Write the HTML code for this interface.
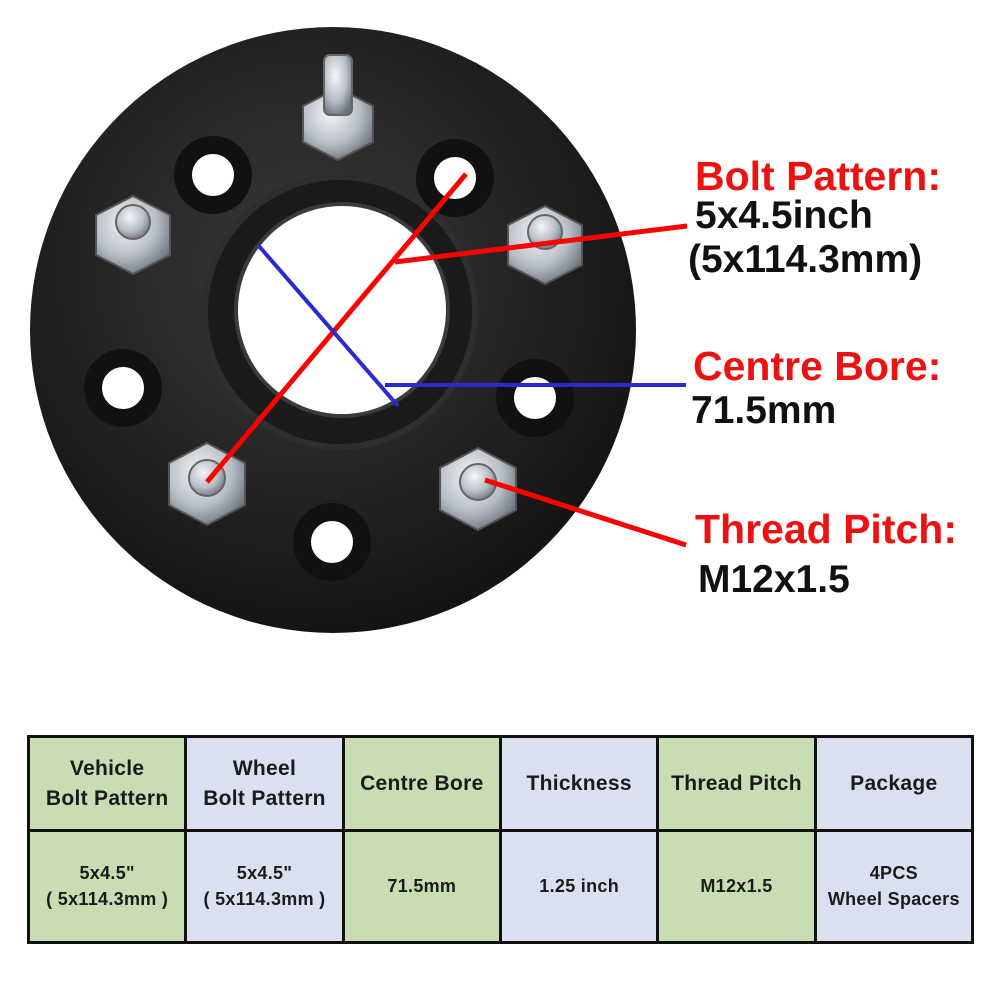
<!DOCTYPE html>
<html><head><style>
body{margin:0;background:#fff;width:1001px;height:1001px;overflow:hidden;font-family:"Liberation Sans",Arial,sans-serif}
svg{position:absolute;left:0;top:0}
table{position:absolute;left:27px;top:735px;width:947px;height:209px;border-collapse:collapse;table-layout:fixed}
td{border:3px solid #111;text-align:center;font-weight:bold;font-size:21px;color:#1a1a1a;line-height:1.4;padding:0;letter-spacing:0.3px}
tr.b td{font-size:18px}
.g{background:#c9ddb3}.v{background:#dbe0f1}
</style></head><body>
<svg width="1001" height="1001">
<defs>
<radialGradient id="d" cx="45%" cy="40%" r="65%"><stop offset="0" stop-color="#3a3a3a"/><stop offset="0.6" stop-color="#222"/><stop offset="1" stop-color="#111"/></radialGradient>
<radialGradient id="s" cx="40%" cy="35%" r="70%"><stop offset="0" stop-color="#f4f6f8"/><stop offset="0.6" stop-color="#b8bec6"/><stop offset="1" stop-color="#6c737c"/></radialGradient>
</defs>
<circle cx="333" cy="330" r="303" fill="url(#d)"/>
<circle cx="340" cy="312" r="135" fill="#1a1a1a" stroke="#2e2e2e" stroke-width="6"/>
<circle cx="342" cy="310" r="106" fill="#fff" stroke="#3a3a3a" stroke-width="4"/>
<g fill="#fff" stroke="#111" stroke-width="18">
<circle cx="213" cy="175" r="30"/><circle cx="455" cy="178" r="30"/><circle cx="123" cy="388" r="30"/><circle cx="535" cy="398" r="30"/><circle cx="332" cy="542" r="30"/>
</g>
<g fill="url(#s)" stroke="#555" stroke-width="2">
<polygon points="338,88 373,106 373,142 338,160 303,142 303,106"/>
<polygon points="133,196 170,215 170,255 133,274 96,255 96,215"/>
<polygon points="545,206 582,225 582,265 545,284 508,265 508,225"/>
<polygon points="207,443 245,463 245,505 207,525 169,505 169,463"/>
<polygon points="478,448 516,468 516,510 478,530 440,510 440,468"/>
</g>
<g fill="url(#s)" stroke="#666" stroke-width="2">
<rect x="324" y="55" width="28" height="60" rx="6"/>
<circle cx="133" cy="222" r="17"/><circle cx="545" cy="232" r="17"/><circle cx="207" cy="478" r="18"/><circle cx="478" cy="482" r="18"/>
</g>
<g stroke="#f00" stroke-width="5" fill="none">
<line x1="207" y1="482" x2="466" y2="174"/>
<line x1="395" y1="262" x2="687" y2="226"/>
<line x1="485" y1="480" x2="686" y2="545"/>
</g>
<g stroke="#2a2ad0" stroke-width="4" fill="none">
<line x1="258" y1="245" x2="398" y2="406"/>
<line x1="385" y1="385" x2="686" y2="385"/>
</g>
<g font-weight="bold" font-size="41">
<text x="695" y="190" fill="#e11">Bolt Pattern:</text>
<text x="695" y="228" fill="#111" font-size="39">5x4.5inch</text>
<text x="688" y="272" fill="#111" font-size="39">(5x114.3mm)</text>
<text x="693" y="380" fill="#e11">Centre Bore:</text>
<text x="691" y="423" fill="#111" font-size="39">71.5mm</text>
<text x="695" y="543" fill="#e11">Thread Pitch:</text>
<text x="698" y="592" fill="#111" font-size="39">M12x1.5</text>
</g>
</svg>
<table>
<tr style="height:94px"><td class="g">Vehicle<br>Bolt Pattern</td><td class="v">Wheel<br>Bolt Pattern</td><td class="g">Centre Bore</td><td class="v">Thickness</td><td class="g">Thread Pitch</td><td class="v">Package</td></tr>
<tr class="b"><td class="g">5x4.5"<br>( 5x114.3mm )</td><td class="v">5x4.5"<br>( 5x114.3mm )</td><td class="g">71.5mm</td><td class="v">1.25 inch</td><td class="g">M12x1.5</td><td class="v">4PCS<br>Wheel Spacers</td></tr>
</table>
</body></html>
